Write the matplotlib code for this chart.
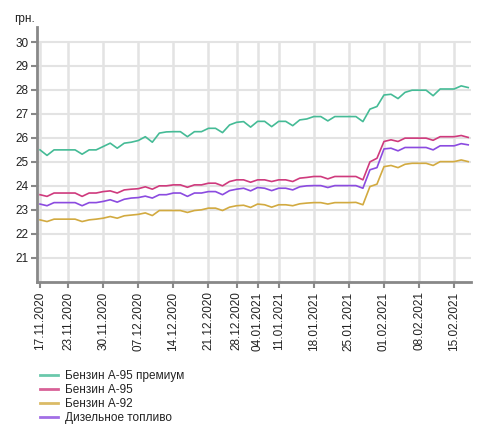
import matplotlib.pyplot as plt
import numpy as np

plt.rcParams['font.family'] = ['Liberation Sans', 'DejaVu Sans']

# trading days, 17.11.2020 .. 17.02.2021 (62 points)
tick_idx = [0, 4, 9, 14, 19, 24, 28, 31, 34, 39, 44, 49, 54, 59]
tick_labels = ["17.11.2020", "23.11.2020", "30.11.2020", "07.12.2020", "14.12.2020",
               "21.12.2020", "28.12.2020", "04.01.2021", "11.01.2021", "18.01.2021",
               "25.01.2021", "01.02.2021", "08.02.2021", "15.02.2021"]

a95_premium = [25.50, 25.27, 25.50, 25.50, 25.50, 25.50, 25.32, 25.50, 25.50, 25.64,
               25.78, 25.57, 25.78, 25.82, 25.89, 26.05, 25.82, 26.20, 26.25, 26.26,
               26.26, 26.05, 26.26, 26.26, 26.40, 26.40, 26.22, 26.54, 26.65, 26.68,
               26.45, 26.69, 26.69, 26.47, 26.69, 26.69, 26.51, 26.75, 26.79, 26.89,
               26.89, 26.71, 26.89, 26.89, 26.89, 26.89, 26.68, 27.20, 27.31, 27.79,
               27.82, 27.64, 27.90, 27.99, 27.99, 27.99, 27.76, 28.04, 28.04, 28.04,
               28.17, 28.10]

a95 = [23.63, 23.56, 23.70, 23.70, 23.70, 23.70, 23.56, 23.70, 23.70, 23.76,
       23.79, 23.70, 23.83, 23.86, 23.88, 23.96, 23.86, 24.00, 24.00, 24.04,
       24.04, 23.94, 24.04, 24.04, 24.11, 24.11, 24.00, 24.18, 24.25, 24.25,
       24.15, 24.25, 24.25, 24.18, 24.25, 24.25, 24.18, 24.32, 24.35, 24.39,
       24.39, 24.29, 24.39, 24.39, 24.39, 24.39, 24.25, 25.00, 25.15, 25.85,
       25.92, 25.85, 25.99, 25.99, 25.99, 25.99, 25.90, 26.05, 26.05, 26.05,
       26.10, 26.02]

a92 = [22.58, 22.51, 22.61, 22.61, 22.61, 22.61, 22.51, 22.58, 22.61, 22.65,
       22.72, 22.65, 22.75, 22.78, 22.81, 22.87, 22.76, 22.97, 22.97, 22.97,
       22.97, 22.89, 22.97, 23.00, 23.07, 23.07, 22.97, 23.11, 23.17, 23.19,
       23.10, 23.24, 23.21, 23.11, 23.21, 23.21, 23.17, 23.25, 23.28, 23.30,
       23.30, 23.24, 23.30, 23.30, 23.30, 23.31, 23.21, 23.97, 24.07, 24.80,
       24.85, 24.76, 24.90, 24.94, 24.94, 24.94, 24.85, 25.01, 25.01, 25.01,
       25.08, 25.01]

diesel = [23.24, 23.17, 23.30, 23.30, 23.30, 23.30, 23.17, 23.30, 23.30, 23.35,
          23.42, 23.32, 23.44, 23.49, 23.51, 23.57, 23.49, 23.63, 23.63, 23.70,
          23.70, 23.56, 23.70, 23.70, 23.76, 23.76, 23.63, 23.80, 23.86, 23.90,
          23.79, 23.93, 23.90, 23.80, 23.90, 23.90, 23.83, 23.96, 24.00, 24.01,
          24.01, 23.93, 24.01, 24.01, 24.01, 24.01, 23.90, 24.67, 24.76, 25.54,
          25.57, 25.46, 25.60, 25.60, 25.60, 25.60, 25.50, 25.67, 25.67, 25.67,
          25.76, 25.71]

names = ["Бензин А-95 премиум", "Бензин А-95", "Бензин А-92", "Дизельное топливо"]
colors = ["#45bb96", "#cf3a7d", "#d2aa40", "#8b4be0"]
series = [a95_premium, a95, a92, diesel]

fig = plt.figure(figsize=(4.88, 4.41), dpi=100)
ax = fig.add_axes([0.0752, 0.3612, 0.8893, 0.5783])

x = np.arange(len(a95_premium))

# grid
for v in range(21, 31):
    ax.axhline(v, color="#e3e3e3", lw=1.5, zorder=0)
ax.vlines(tick_idx, 20, 30, color="#e3e3e3", lw=1.8, zorder=0)

handles = []
for s, c, n in zip(series, colors, names):
    ax.plot(x, s, color=c, lw=1.2, zorder=3)
    handles.append(plt.Line2D([], [], color=c, lw=2, alpha=0.8, label=n))

ax.set_xlim(-0.47, 61.35)
ax.set_ylim(20, 30.64)

ax.set_yticks(range(21, 31))
ax.set_xticks(tick_idx)
ax.set_xticklabels(tick_labels, rotation=90)
ax.tick_params(axis="both", colors="#888888", width=1.5, length=4, labelcolor="#222222",
               labelsize=8.5)
ax.tick_params(axis="x", pad=3)
ax.tick_params(axis="y", pad=2)
for lbl in ax.get_xticklabels():
    lbl.set_x(lbl.get_position()[0])

for side in ["top", "right"]:
    ax.spines[side].set_visible(False)
for side in ["left", "bottom"]:
    ax.spines[side].set_color("#888888")
    ax.spines[side].set_linewidth(2)

fig.text(0.029, 0.958, "грн.", fontsize=8.5, color="#222222", va="center")

fig.legend(handles=handles, loc="upper left", bbox_to_anchor=(0.081, 0.161),
           frameon=False, fontsize=8.5, handlelength=1.55, handletextpad=0.6,
           labelspacing=0.18, borderaxespad=0, borderpad=0, labelcolor="#222222")

fig.savefig("out.png", dpi=100)
